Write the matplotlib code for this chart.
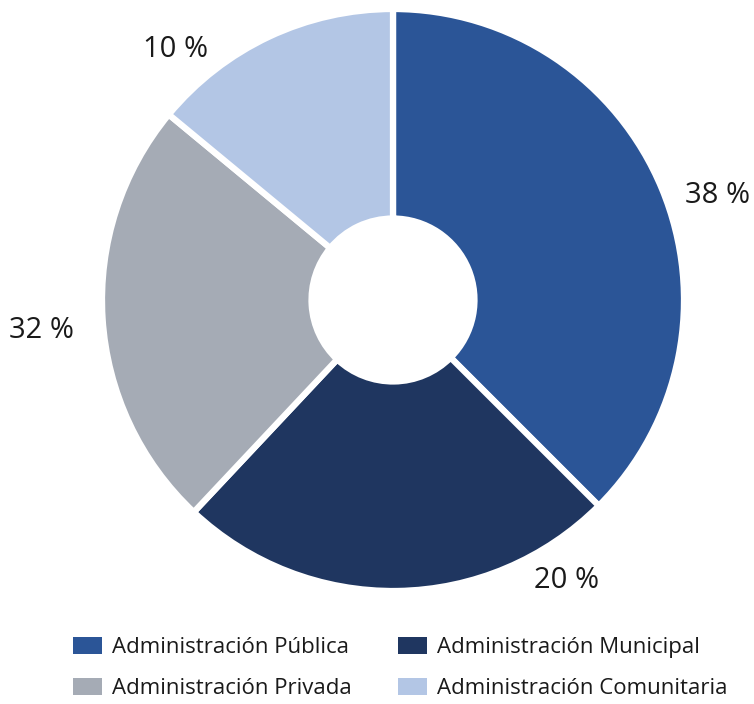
"""
Donut chart: distribución por tipo de administración
"""

import matplotlib.pyplot as plt
from matplotlib.patches import Patch

plt.rcParams['font.family'] = ['Open Sans', 'DejaVu Sans']

# data
categories = ['Administración Pública', 'Administración Municipal',
              'Administración Privada', 'Administración Comunitaria']
slice_sizes = [37.5, 24.5, 24.0, 14.0]
slice_labels = ['38 %', '20 %', '32 %', '10 %']
colors = ['#2B5597', '#1F3660', '#A5ABB5', '#B3C6E5']

# label positions in pie coordinates (radius = 1)
label_pos = [(1.115, 0.358), (0.597, -0.965), (-1.208, -0.104), (-0.747, 0.861)]

fig = plt.figure(figsize=(7.54, 7.04), dpi=100)
W, H = 754, 704
cx, cy, r = 393, 300, 291
ax = fig.add_axes([(cx - r) / W, (H - cy - r) / H, 2 * r / W, 2 * r / H])

ax.pie(slice_sizes, colors=colors, startangle=90, counterclock=False, radius=1,
       wedgeprops=dict(width=0.72, edgecolor='white', linewidth=4.5))
ax.set_xlim(-1, 1)
ax.set_ylim(-1, 1)
ax.set_aspect('equal')
ax.axis('off')

for txt, (x, y) in zip(slice_labels, label_pos):
    ax.text(x, y, txt, ha='center', va='center', fontsize=21, color='#1a1a1a')

# legend, row-wise order: Pública, Municipal / Privada, Comunitaria
order = [0, 2, 1, 3]
handles = [Patch(facecolor=colors[i], edgecolor='none') for i in order]
labels = [categories[i] for i in order]
fig.legend(handles, labels, ncol=2, frameon=False, loc='center',
           bbox_to_anchor=(0.531, (H - 668) / H), fontsize=16,
           handlelength=1.3, handleheight=0.8, handletextpad=0.45,
           columnspacing=2.1, labelspacing=0.92, labelcolor='#1a1a1a')

fig.savefig('out.png', dpi=100)
